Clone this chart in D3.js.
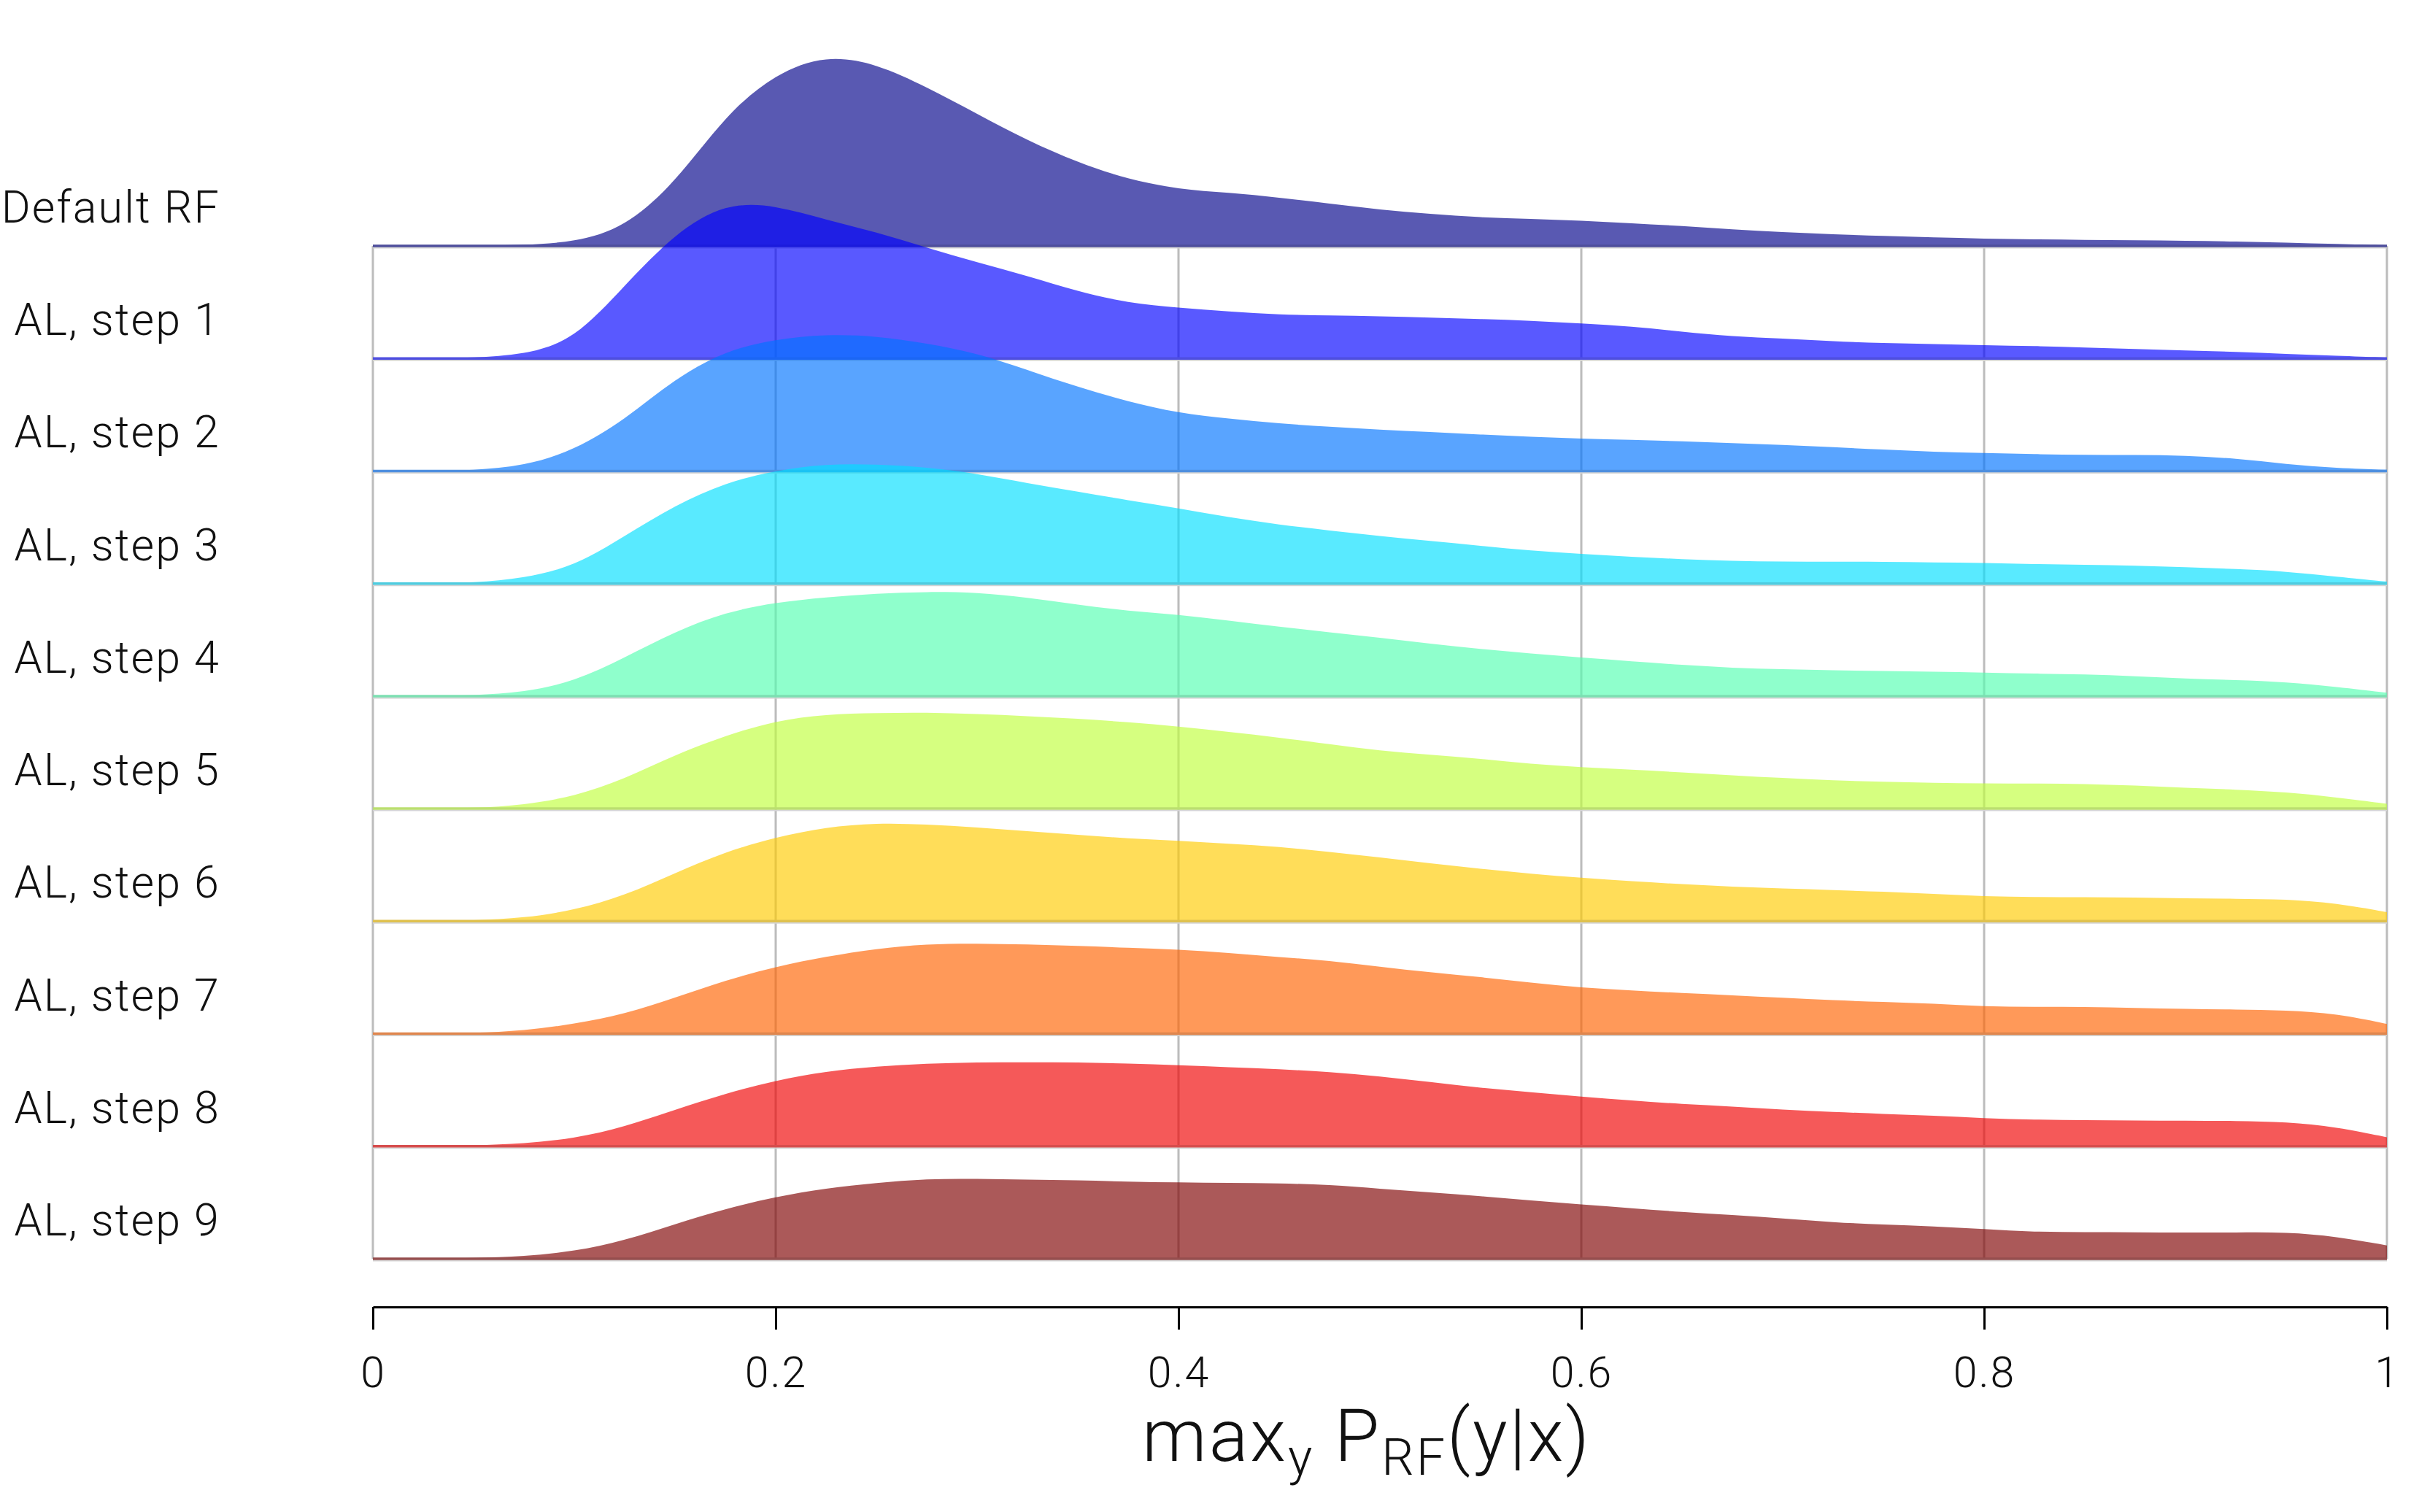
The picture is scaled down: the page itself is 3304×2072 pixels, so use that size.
<!DOCTYPE html>
<html>
<head>
<meta charset="utf-8">
<script src="https://cdn.jsdelivr.net/npm/d3@7"></script>
<style>
  html, body { margin: 0; padding: 0; background: #ffffff; }
  svg { display: block; }
  text { font-family: Roboto, "Liberation Sans", sans-serif; font-weight: 300; fill: #111; }
</style>
</head>
<body>
<svg id="chart" width="3304" height="2072"></svg>
<script>
// ---------------- data ----------------
const seriesNames = ["Default RF", "AL, step 1", "AL, step 2", "AL, step 3", "AL, step 4",
                     "AL, step 5", "AL, step 6", "AL, step 7", "AL, step 8", "AL, step 9"];

// evaluation grid of max_y P_RF(y|x)
const xGrid = [0, 0.025, 0.05, 0.075, 0.1, 0.125, 0.15, 0.175, 0.2, 0.225,
               0.25, 0.275, 0.3, 0.325, 0.35, 0.375, 0.4, 0.425, 0.45, 0.475,
               0.5, 0.525, 0.55, 0.575, 0.6, 0.625, 0.65, 0.675, 0.7, 0.725,
               0.75, 0.775, 0.8, 0.825, 0.85, 0.875, 0.9, 0.925, 0.95, 0.975, 1];

// relative density heights
const densDefault = [0,0,0.01,0.04,0.15,0.75,2.58,5.38,7.10,7.85,7.50,6.53,5.43,4.33,3.43,2.73,2.33,2.19,1.99,1.74,1.49,1.32,1.17,1.11,1.04,0.93,0.82,0.68,0.57,0.48,0.41,0.35,0.30,0.27,0.25,0.23,0.21,0.18,0.14,0.08,0.03];
const densStep1 = [0,0,0.03,0.15,0.75,3.00,5.15,6.40,6.30,5.70,5.20,4.55,3.95,3.40,2.75,2.28,2.08,1.93,1.80,1.77,1.74,1.68,1.62,1.55,1.44,1.32,1.10,0.90,0.82,0.70,0.63,0.59,0.55,0.51,0.45,0.39,0.33,0.27,0.19,0.11,0.04];
const densStep2 = [0,0,0.03,0.20,0.85,2.10,3.80,4.95,5.42,5.62,5.55,5.25,4.85,4.15,3.45,2.85,2.38,2.15,1.95,1.82,1.70,1.60,1.50,1.41,1.33,1.28,1.22,1.15,1.07,0.98,0.88,0.79,0.74,0.69,0.66,0.66,0.64,0.52,0.28,0.12,0.05];
const densStep3 = [0,0,0.03,0.22,0.70,1.95,3.22,4.15,4.65,4.92,4.90,4.78,4.52,4.12,3.78,3.42,3.10,2.72,2.42,2.18,1.95,1.75,1.55,1.35,1.22,1.10,1.00,0.93,0.90,0.90,0.89,0.87,0.85,0.80,0.77,0.74,0.67,0.60,0.50,0.28,0.08];
const densStep4 = [0,0,0.03,0.15,0.60,1.58,2.65,3.45,3.85,4.06,4.22,4.29,4.26,4.05,3.75,3.50,3.35,3.10,2.85,2.62,2.40,2.15,1.93,1.75,1.58,1.43,1.28,1.16,1.10,1.06,1.03,1.00,0.97,0.92,0.90,0.82,0.72,0.66,0.58,0.38,0.14];
const densStep5 = [0,0,0.02,0.15,0.50,1.22,2.21,3.00,3.62,3.88,3.93,3.95,3.89,3.80,3.70,3.55,3.38,3.15,2.92,2.65,2.38,2.22,2.05,1.83,1.70,1.60,1.49,1.37,1.26,1.16,1.10,1.06,1.04,1.03,1.02,0.95,0.86,0.78,0.68,0.46,0.20];
const densStep6 = [0,0,0.03,0.13,0.45,1.05,1.98,2.85,3.45,3.87,4.04,3.98,3.85,3.70,3.55,3.40,3.31,3.18,3.06,2.85,2.62,2.38,2.15,1.95,1.78,1.64,1.52,1.41,1.34,1.28,1.21,1.12,1.02,0.99,0.99,0.97,0.94,0.92,0.90,0.74,0.37];
const densStep7 = [0,0,0.03,0.12,0.40,0.80,1.48,2.19,2.76,3.17,3.50,3.69,3.71,3.67,3.61,3.53,3.46,3.32,3.15,3.00,2.75,2.52,2.33,2.10,1.89,1.78,1.67,1.58,1.48,1.37,1.31,1.24,1.12,1.10,1.10,1.06,1.02,0.99,0.96,0.83,0.40];
const densStep8 = [0,0,0.03,0.10,0.32,0.80,1.50,2.17,2.70,3.08,3.28,3.40,3.45,3.45,3.45,3.40,3.33,3.25,3.17,3.05,2.88,2.64,2.40,2.22,2.04,1.88,1.73,1.64,1.50,1.41,1.33,1.26,1.15,1.09,1.07,1.06,1.05,1.04,1.00,0.80,0.37];
const densStep9 = [0,0,0.03,0.10,0.30,0.75,1.43,2.05,2.55,2.90,3.12,3.29,3.29,3.25,3.23,3.17,3.14,3.12,3.10,3.05,2.88,2.73,2.58,2.40,2.23,2.08,1.92,1.80,1.66,1.50,1.40,1.34,1.22,1.10,1.10,1.09,1.08,1.08,1.10,0.92,0.55];

const seriesValues = [densDefault, densStep1, densStep2, densStep3, densStep4,
                      densStep5, densStep6, densStep7, densStep8, densStep9];

const seriesColors = ["#000088", "#0000ff", "#0073ff", "#00dfff", "#53ffb1",
                      "#c0ff3c", "#ffcb00", "#ff6200", "#f00000", "#7e0000"];

const xTicks = [0, 0.2, 0.4, 0.6, 0.8, 1];
const xTickLabels = ["0", "0.2", "0.4", "0.6", "0.8", "1"];

// ---------------- layout ----------------
const W = 3304, H = 2072;
const plotLeft = 511, plotRight = 3271;
const firstBaseline = 337, lastBaseline = 1725;
const axisY = 1791;
const densityPerRow = 4.626;   // density units that fit between two baselines
const fillOpacity = 0.65;

const svg = d3.select("#chart");
svg.append("rect").attr("width", W).attr("height", H).attr("fill", "#fff");

const x = d3.scaleLinear().domain([0, 1]).range([plotLeft, plotRight]);
const row = d3.scalePoint().domain(seriesNames).range([firstBaseline, lastBaseline]);
const hScale = d3.scaleLinear().domain([0, densityPerRow]).range([0, row.step()]);

// vertical grid lines
svg.append("g").selectAll("line")
  .data(xTicks).join("line")
  .attr("x1", d => x(d)).attr("x2", d => x(d))
  .attr("y1", firstBaseline).attr("y2", lastBaseline)
  .attr("stroke", "#bcbcbc").attr("stroke-width", 3);

// horizontal gray lines under baselines
svg.append("g").selectAll("line")
  .data(seriesNames).join("line")
  .attr("x1", x(0)).attr("x2", x(1))
  .attr("y1", d => row(d) + 2.5).attr("y2", d => row(d) + 2.5)
  .attr("stroke", "#d4d4d4").attr("stroke-width", 2);

// ridges
const ridges = svg.append("g");
seriesNames.forEach((name, i) => {
  const base = row(name);
  const pts = xGrid.map((xv, j) => [xv, seriesValues[i][j]]);
  const area = d3.area()
    .x(d => x(d[0]))
    .y0(base)
    .y1(d => base - hScale(d[1]))
    .curve(d3.curveBasis);
  const g = ridges.append("g");
  g.append("path")
    .datum(pts)
    .attr("d", area)
    .attr("fill", seriesColors[i])
    .attr("fill-opacity", fillOpacity);
  const blended = d3.rgb(d3.interpolateRgb("#ffffff", seriesColors[i])(fillOpacity)).darker(0.38);
  g.append("line")
    .attr("x1", x(0)).attr("x2", x(1))
    .attr("y1", base).attr("y2", base)
    .attr("stroke", blended.formatHex())
    .attr("stroke-width", 3.5);
});

// row labels
svg.append("g").selectAll("text")
  .data(seriesNames).join("text")
  .attr("x", 302)
  .attr("y", d => row(d) - 32)
  .attr("text-anchor", "end")
  .attr("font-size", 61)
  .attr("letter-spacing", 2.1)
  .text(d => d);

// x axis
const axis = d3.axisBottom(x)
  .tickValues(xTicks)
  .tickFormat((d, i) => xTickLabels[i])
  .tickSizeInner(31)
  .tickSizeOuter(0)
  .tickPadding(0);
const axG = svg.append("g").attr("transform", `translate(0,${axisY})`).call(axis);
axG.select(".domain").attr("stroke", "#000").attr("stroke-width", 3);
axG.selectAll(".tick line").attr("stroke", "#000").attr("stroke-width", 3);
axG.selectAll(".tick text")
  .attr("y", 110).attr("dy", null)
  .attr("font-size", 59)
  .attr("letter-spacing", 2)
  .attr("font-family", "Roboto, 'Liberation Sans', sans-serif")
  .attr("font-weight", 300)
  .attr("fill", "#111");

// axis title: max_y P_RF(y|x)
const title = svg.append("text")
  .attr("x", (plotLeft + plotRight) / 2 - 18)
  .attr("y", 2002)
  .attr("text-anchor", "middle")
  .attr("font-size", 100)
  .attr("letter-spacing", 3);
title.append("tspan").text("max");
title.append("tspan").attr("font-size", 70).attr("dy", 19).text("y");
title.append("tspan").attr("dy", -19).text(" P");
title.append("tspan").attr("font-size", 70).attr("dy", 19).text("RF");
title.append("tspan").attr("dy", -19).text("(y|x)");
</script>
</body>
</html>
